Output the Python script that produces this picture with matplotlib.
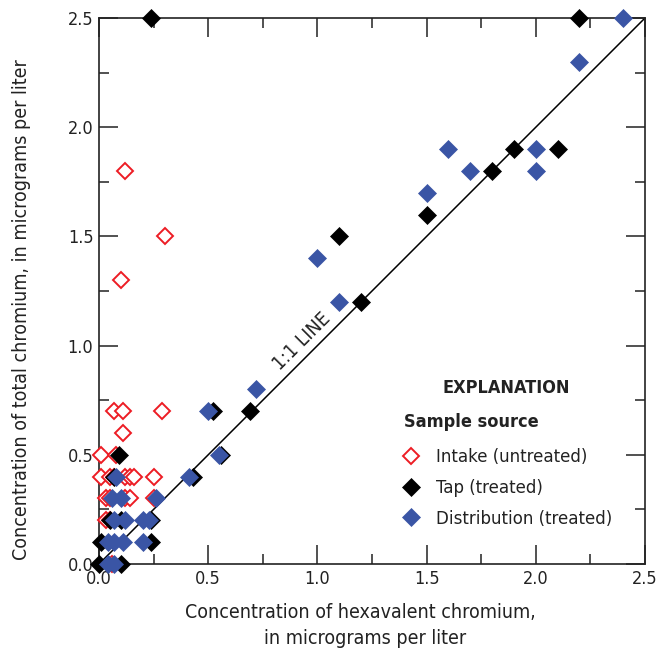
import matplotlib
matplotlib.use("Agg")
import matplotlib.pyplot as plt
from matplotlib.ticker import MultipleLocator, FormatStrFormatter

plt.rcParams['font.family'] = ['DejaVu Sans']
plt.rcParams['font.stretch'] = 'condensed'

# Intake (untreated) samples: hexavalent vs total chromium, ug/L
intake_hex = [0.12, 0.30, 0.10, 0.07, 0.11, 0.29, 0.11, 0.01, 0.08,
              0.01, 0.05, 0.07, 0.12, 0.14, 0.16, 0.25,
              0.03, 0.05, 0.12, 0.14, 0.25,
              0.03, 0.05, 0.06]
intake_tot = [1.8, 1.5, 1.3, 0.7, 0.7, 0.7, 0.6, 0.5, 0.5,
              0.4, 0.4, 0.4, 0.4, 0.4, 0.4, 0.4,
              0.3, 0.3, 0.3, 0.3, 0.3,
              0.2, 0.2, 0.0]

# Tap (treated) samples
tap_hex = [0.24, 2.20, 1.90, 2.10, 1.80, 1.50, 1.10, 1.20, 0.69, 0.52,
           0.56, 0.43, 0.09, 0.07, 0.05, 0.10, 0.24, 0.01, 0.24, 0.00, 0.10]
tap_tot = [2.5, 2.5, 1.9, 1.9, 1.8, 1.6, 1.5, 1.2, 0.7, 0.7,
           0.5, 0.4, 0.5, 0.4, 0.2, 0.2, 0.2, 0.1, 0.1, 0.0, 0.0]

# Distribution (treated) samples
dist_hex = [2.40, 2.20, 1.60, 2.00, 1.70, 2.00, 1.50, 1.00, 1.10, 0.72,
            0.50, 0.55, 0.41, 0.08, 0.06, 0.10, 0.26, 0.07, 0.12, 0.20,
            0.23, 0.04, 0.07, 0.11, 0.20, 0.04, 0.07]
dist_tot = [2.5, 2.3, 1.9, 1.9, 1.8, 1.8, 1.7, 1.4, 1.2, 0.8,
            0.7, 0.5, 0.4, 0.4, 0.3, 0.3, 0.3, 0.2, 0.2, 0.2,
            0.2, 0.1, 0.1, 0.1, 0.1, 0.0, 0.0]

axis_limits = [0.0, 2.5]
one_to_one = [0.0, 2.5]

RED = '#ED1C24'
BLUE = '#3A55A5'
INK = '#222222'

fig = plt.figure(figsize=(6.70, 6.54), dpi=100)
ax = fig.add_axes([99 / 670, 90 / 654, 546 / 670, 546 / 654])

ax.plot(one_to_one, one_to_one, color='black', lw=1.1, zorder=1)

ms = 9.0
h_int, = ax.plot(intake_hex, intake_tot, linestyle='none', marker='D', ms=ms - 0.4,
                 mfc='white', mec=RED, mew=1.4, zorder=3, clip_on=False,
                 label='Intake (untreated)')
h_tap, = ax.plot(tap_hex, tap_tot, linestyle='none', marker='D', ms=ms,
                 mfc='black', mec='black', mew=0.5, zorder=4, clip_on=False,
                 label='Tap (treated)')
h_dist, = ax.plot(dist_hex, dist_tot, linestyle='none', marker='D', ms=ms,
                  mfc=BLUE, mec=BLUE, mew=0.5, zorder=5, clip_on=False,
                  label='Distribution (treated)')

ax.set_xlim(axis_limits)
ax.set_ylim(axis_limits)

for a in (ax.xaxis, ax.yaxis):
    a.set_major_locator(MultipleLocator(0.5))
    a.set_minor_locator(MultipleLocator(0.25))
    a.set_major_formatter(FormatStrFormatter('%.1f'))

ax.tick_params(which='both', direction='in', top=True, right=True,
               color=INK, labelcolor=INK, labelsize=13)
ax.tick_params(which='major', length=13.5, width=1.1, pad=4)
ax.tick_params(which='minor', length=7, width=1.1)
for s in ax.spines.values():
    s.set_linewidth(1.2)
    s.set_color(INK)

ax.text(0.93, 1.02, '1:1 LINE', rotation=45, rotation_mode='anchor',
        ha='center', va='center', fontsize=14, color=INK)

fig.text(22 / 670, 1 - 310 / 654,
         'Concentration of total chromium, in micrograms per liter',
         rotation=90, ha='center', va='center', fontsize=14, color=INK)
fig.text(360 / 670, 1 - 612 / 654, 'Concentration of hexavalent chromium,',
         ha='center', va='center', fontsize=14, color=INK)
fig.text(365 / 670, 1 - 639 / 654, 'in micrograms per liter',
         ha='center', va='center', fontsize=14, color=INK)

fig.text(506 / 670, 1 - 388 / 654, 'EXPLANATION', ha='center', va='center',
         fontsize=13, fontweight='bold', color=INK)
fig.text(404 / 670, 1 - 422 / 654, 'Sample source', ha='left', va='center',
         fontsize=13, fontweight='bold', color=INK)

leg = ax.legend(handles=[h_int, h_tap, h_dist], loc='center left',
                bbox_to_anchor=(401 / 670, 1 - 488 / 654),
                bbox_transform=fig.transFigure, frameon=False,
                fontsize=13.3, handlelength=1.05, handletextpad=0.85,
                labelspacing=0.68, borderpad=0, borderaxespad=0)
for t in leg.get_texts():
    t.set_color(INK)

fig.savefig('out.png', dpi=100)
